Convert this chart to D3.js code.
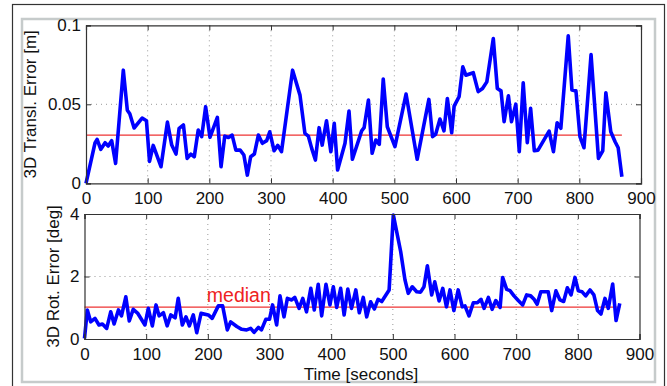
<!DOCTYPE html>
<html>
<head>
<meta charset="utf-8">
<script src="https://cdn.jsdelivr.net/npm/d3@7"></script>
<style>
  html, body { margin: 0; padding: 0; background: #fff; }
  svg { display: block; }
  text { font-family: "Liberation Sans", Arial, Helvetica, sans-serif; fill: #111; }
</style>
</head>
<body>
<svg id="chart" width="667" height="386"></svg>
<script>
// --- data ---
const transTime = [0, 14.6, 18, 24, 31, 36, 41.6, 48, 60.5, 67, 71, 78, 91, 98, 103, 109, 121.6, 132, 139, 146, 151, 158, 164, 170, 175.6, 182, 187.6, 194, 201, 213, 219, 225, 231, 237, 243, 250, 256, 261.6, 267, 273, 279.5, 286, 293, 298, 305, 311, 317, 335, 347, 355, 360.5, 366, 372, 378, 383, 390, 397, 402.6, 408, 420, 426.5, 432, 447, 451, 458, 464, 470, 475.6, 482, 488.6, 501, 519, 537, 556, 562, 567, 574, 580.5, 586, 593, 597, 605, 611, 616, 628, 636, 643, 650, 660.5, 667, 673, 678, 685, 690, 697, 702.6, 709, 715.6, 721, 727, 733, 751, 758, 764, 770, 782, 788, 794.5, 801, 807.5, 819, 831, 838, 843, 851, 858, 863, 869];
const transErr = [0, 0.0255, 0.0278, 0.0215, 0.0257, 0.0236, 0.027, 0.0126, 0.0716, 0.0463, 0.044, 0.035, 0.0413, 0.0396, 0.0139, 0.024, 0.0105, 0.0387, 0.0242, 0.0185, 0.0348, 0.0369, 0.0158, 0.0185, 0.0168, 0.0337, 0.0295, 0.0485, 0.0291, 0.0417, 0.0105, 0.0299, 0.029, 0.0305, 0.021, 0.021, 0.0179, 0.0052, 0.0168, 0.0185, 0.0305, 0.0253, 0.027, 0.0326, 0.0206, 0.024, 0.02, 0.0716, 0.0558, 0.0316, 0.0299, 0.0221, 0.0147, 0.0352, 0.0242, 0.0396, 0.02, 0.038, 0.0084, 0.0253, 0.0457, 0.0152, 0.0332, 0.0352, 0.0527, 0.019, 0.0274, 0.0246, 0.066, 0.0358, 0.0232, 0.0565, 0.0152, 0.0531, 0.0295, 0.031, 0.0407, 0.0332, 0.0537, 0.032, 0.0489, 0.0548, 0.0737, 0.0684, 0.07, 0.058, 0.06, 0.0642, 0.0916, 0.06, 0.0585, 0.039, 0.0554, 0.039, 0.0501, 0.02, 0.0636, 0.0257, 0.0474, 0.0206, 0.021, 0.033, 0.02, 0.0383, 0.0348, 0.0933, 0.059, 0.0585, 0.0295, 0.0225, 0.0815, 0.0158, 0.0206, 0.0573, 0.0326, 0.0263, 0.0225, 0.0042];

const rotTime = [0, 4.6, 10, 17, 23.5, 29, 36, 42.5, 48, 55, 60, 67, 72.6, 79, 86, 98, 103.5, 110, 116, 121, 128, 134, 140, 147, 152, 158.6, 164.6, 170, 176.4, 182, 189, 200.8, 207, 217, 224, 231.6, 237, 247, 255, 263, 269.5, 275, 282, 287, 294, 300, 305, 311.6, 317, 323.5, 329, 336, 341, 348, 354, 360, 367, 372.6, 379, 384.6, 391.6, 398, 403.5, 409, 415.4, 421, 427, 433, 440, 445.6, 452, 457.6, 464, 470, 476, 482, 494, 500.8, 512.7, 519.7, 525, 531.5, 538.7, 545, 550.5, 556, 563, 568, 575, 581, 587, 592.7, 599, 606, 612.6, 617, 623.5, 630.5, 637, 643, 648, 655, 661, 667, 674, 678, 684.6, 690, 696.5, 703.4, 710.6, 717, 723.5, 729, 734, 740, 747, 752, 757.6, 764.5, 771, 777, 783, 789, 795.4, 800.8, 807, 812.7, 819.7, 826, 832, 837.5, 844, 849.4, 856.5, 862, 868];
const rotErr = [0.02, 0.93, 0.55, 0.66, 0.45, 0.48, 0.34, 0.87, 0.48, 0.93, 0.74, 1.35, 0.58, 0.95, 0.83, 0.45, 0.98, 0.42, 1.09, 0.74, 0.84, 0.42, 0.77, 0.68, 1.3, 0.45, 0.71, 0.42, 0.77, 0.2, 0.82, 0.77, 0.66, 1.06, 1.06, 0.29, 0.55, 0.4, 0.31, 0.29, 0.34, 0.21, 0.37, 0.29, 0.63, 0.63, 1.09, 0.45, 1.38, 0.71, 1.3, 1.25, 1.33, 0.98, 1.3, 0.87, 1.62, 0.93, 1.75, 0.74, 1.75, 1.09, 1.67, 1.01, 1.62, 0.77, 1.6, 0.98, 1.57, 0.84, 1.33, 0.71, 1.19, 0.96, 1.27, 1.2, 1.57, 3.97, 2.8, 1.89, 1.46, 1.67, 1.51, 1.5, 1.67, 2.34, 1.41, 1.83, 1.22, 1.62, 1.03, 1.57, 0.91, 1.57, 1.03, 1.06, 0.74, 1.16, 1.16, 1.27, 0.98, 1.33, 0.95, 1.23, 1.01, 1.97, 1.59, 1.55, 1.38, 1.23, 1.09, 1.41, 1.38, 1.27, 1.11, 1.51, 1.51, 1.51, 0.91, 1.54, 1.25, 1.2, 1.64, 1.41, 1.97, 1.54, 1.51, 1.38, 1.57, 1.41, 0.91, 0.8, 1.3, 0.98, 1.76, 0.59, 1.14];

const transMedian = 0.0305;
const rotMedian = 1.02;
const medianEnd = 869;

const xTicks = [0, 100, 200, 300, 400, 500, 600, 700, 800, 900];
const transTicks = [0, 0.05, 0.1];
const rotTicks = [0, 2, 4];

const svg = d3.select('#chart');

// --- figure frames ---
svg.append('rect')
  .attr('x', 12.5).attr('y', 4.5).attr('width', 652).attr('height', 400)
  .attr('fill', '#fff').attr('stroke', '#333').attr('stroke-width', 1.2);
svg.append('rect')
  .attr('x', 22).attr('y', 19).attr('width', 633).attr('height', 363)
  .attr('fill', '#fff').attr('stroke', '#c6cbcb').attr('stroke-width', 2.5);

// one MATLAB-style axes panel
function panel(cfg) {
  const x = d3.scaleLinear().domain([0, 900]).range([cfg.left, cfg.right]);
  const y = d3.scaleLinear().domain(cfg.yDomain).range([cfg.bottom, cfg.top]);
  const g = svg.append('g');

  g.append('rect')
    .attr('x', cfg.left).attr('y', cfg.top)
    .attr('width', cfg.right - cfg.left).attr('height', cfg.bottom - cfg.top)
    .attr('fill', '#fff');

  // grid (dotted)
  g.selectAll('line.vgrid').data(xTicks.slice(1, -1)).enter()
    .append('line')
      .attr('x1', d => x(d)).attr('x2', d => x(d))
      .attr('y1', cfg.top).attr('y2', cfg.bottom)
      .attr('stroke', '#999').attr('stroke-width', 1)
      .attr('stroke-dasharray', '1,4');
  g.selectAll('line.hgrid').data(cfg.yTicks.slice(1, -1)).enter()
    .append('line')
      .attr('x1', cfg.left).attr('x2', cfg.right)
      .attr('y1', d => y(d)).attr('y2', d => y(d))
      .attr('stroke', '#999').attr('stroke-width', 1)
      .attr('stroke-dasharray', '1,4');

  // median line
  g.append('line')
    .attr('x1', x(0)).attr('x2', x(medianEnd))
    .attr('y1', y(cfg.median)).attr('y2', y(cfg.median))
    .attr('stroke', '#ee3333').attr('stroke-width', 1.3);

  // data line
  const line = d3.line()
    .x((d, i) => x(cfg.t[i]))
    .y(d => y(d));
  g.append('path')
    .datum(cfg.v)
    .attr('d', line)
    .attr('fill', 'none')
    .attr('stroke', '#0000ff')
    .attr('stroke-width', 3.6)
    .attr('stroke-linejoin', 'round');

  // axes, ticks inward on all sides
  const tk = 5;
  g.append('g').attr('transform', `translate(0,${cfg.bottom})`)
    .call(d3.axisBottom(x).tickValues(xTicks).tickSize(-tk).tickPadding(9));
  g.append('g').attr('transform', `translate(0,${cfg.top})`)
    .call(d3.axisTop(x).tickValues(xTicks).tickSize(-tk).tickFormat(''));
  g.append('g').attr('transform', `translate(${cfg.left},0)`)
    .call(d3.axisLeft(y).tickValues(cfg.yTicks).tickSize(-tk).tickPadding(5)
      .tickFormat(d3.format('~g')));
  g.append('g').attr('transform', `translate(${cfg.right},0)`)
    .call(d3.axisRight(y).tickValues(cfg.yTicks).tickSize(-tk).tickFormat(''));

  g.selectAll('.domain').attr('stroke', '#333').attr('stroke-width', 1.2);
  g.selectAll('.tick line').attr('stroke', '#333');
  g.selectAll('.tick text')
    .style('font-family', '"Liberation Sans", Arial, sans-serif')
    .style('font-size', '17px').attr('fill', '#111');

  // y title
  g.append('text')
    .attr('transform', `translate(${cfg.titleX},${(cfg.top + cfg.bottom) / 2}) rotate(-90)`)
    .attr('text-anchor', 'middle')
    .style('font-size', '17px')
    .text(cfg.title);

  return { x, y, g };
}

const transPanel = panel({
  left: 86, right: 641, top: 25.3, bottom: 183.3,
  yDomain: [0, 0.1], yTicks: transTicks,
  t: transTime, v: transErr, median: transMedian,
  title: '3D Transl. Error [m]', titleX: 36
});

const rotPanel = panel({
  left: 84.5, right: 639.5, top: 214, bottom: 339,
  yDomain: [0, 4], yTicks: rotTicks,
  t: rotTime, v: rotErr, median: rotMedian,
  title: '3D Rot. Error [deg]', titleX: 59
});

// labels
rotPanel.g.append('text')
  .attr('x', rotPanel.x(200) - 1).attr('y', rotPanel.y(rotMedian) - 5.5)
  .style('font-size', '19.5px')
  .style('fill', '#ee2222')
  .text('median');

svg.append('text')
  .attr('x', 361).attr('y', 380)
  .attr('text-anchor', 'middle')
  .style('font-size', '17px')
  .text('Time [seconds]');
</script>
</body>
</html>
